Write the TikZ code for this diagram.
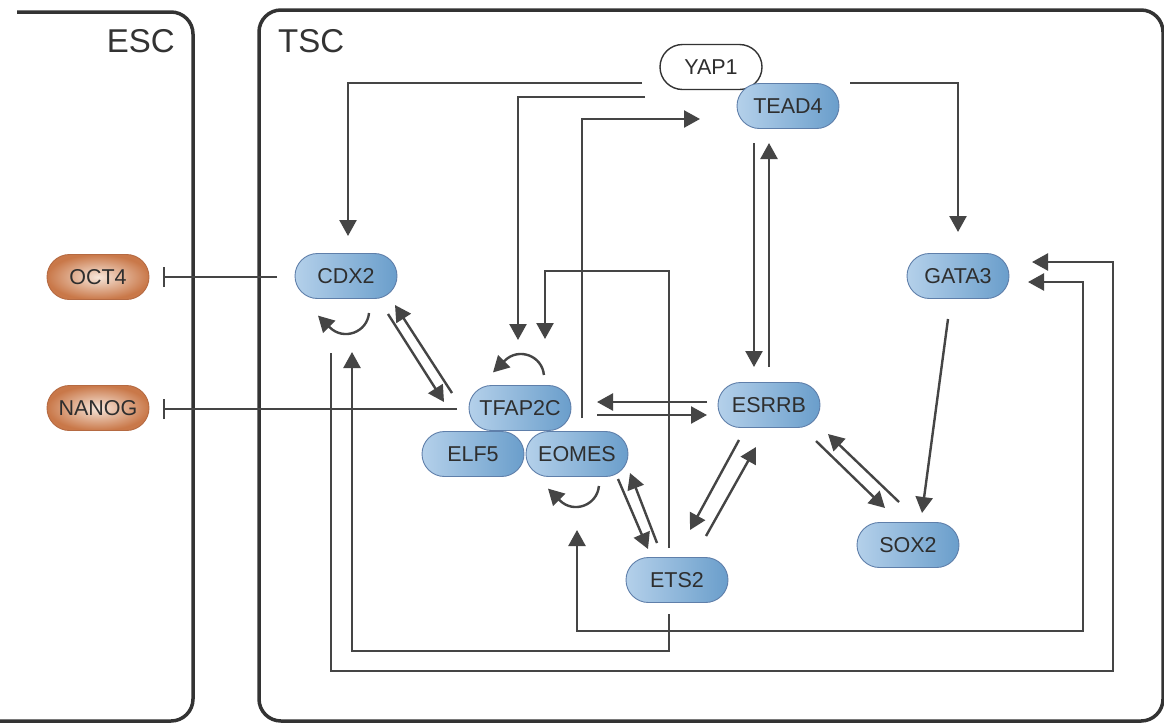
\documentclass[tikz,border=0pt]{standalone}
\usepackage{fontspec}
\setmainfont{Liberation Sans}
\usetikzlibrary{arrows.meta,shapes.misc,calc}

\definecolor{ink}{HTML}{454545}
\definecolor{frame}{HTML}{333333}
\definecolor{txt}{HTML}{2E2E2E}
\definecolor{tfL}{HTML}{B4D0EA}
\definecolor{tfR}{HTML}{6A9ECB}
\definecolor{tfB}{HTML}{5F7FAA}
\definecolor{escIn}{HTML}{F7E6DA}
\definecolor{escOut}{HTML}{C97849}
\definecolor{escB}{HTML}{B56A42}

\begin{document}
\begin{tikzpicture}[x=1pt,y=-1pt,
  gene/.style={rounded rectangle, minimum width=102pt, minimum height=45pt,
    inner sep=0pt, font=\fontsize{21.5}{25}\selectfont, text=txt},
  tsc/.style={gene, draw=tfB, line width=0.9pt, left color=tfL, right color=tfR},
  esc/.style={gene, draw=escB, line width=0.9pt, inner color=escIn, outer color=escOut},
  cofactor/.style={gene, draw=frame, line width=1.4pt, fill=white},
  link/.style={draw=ink, line width=2.4pt},
  act/.style={link, -{Triangle[length=16pt,width=17pt]}},
  dual/.style={link, {Triangle[length=16pt,width=17pt]}-{Triangle[length=16pt,width=17pt]}},
  inh/.style={link, -{Bar[width=20pt]}},
  cell/.style={draw=frame, line width=3.5pt, rounded corners=22pt},
  title/.style={font=\fontsize{33}{40}\selectfont, text=frame, inner sep=0pt}
]
\useasboundingbox (0,0) rectangle (1164,724);
\fill[white] (0,0) rectangle (1164,724);
\clip (0,0) rectangle (1164,724);

% cell compartments
\draw[cell] (17,12) -- (193,12) -- (193,721) -- (-40,721);
\draw[cell] (259,10) rectangle (1163,721);
\node[title, anchor=base east] (esclabel) at (175,52) {ESC};
\node[title, anchor=base west] (tsclabel) at (278,52) {TSC};

% factors
\node[esc] (oct)   at (98,277)  {OCT4};
\node[esc] (nanog) at (98,408)  {NANOG};
\node[cofactor] (yap) at (711,67) {YAP1};
\node[tsc] (tead)  at (788,106) {TEAD4};
\node[tsc] (cdx)   at (346,276) {CDX2};
\node[tsc] (gata)  at (958,276) {GATA3};
\node[tsc] (tfap)  at (520,408) {TFAP2C};
\node[tsc] (elf)   at (473,454) {ELF5};
\node[tsc] (eomes) at (577,454) {EOMES};
\node[tsc] (esrrb) at (769,405) {ESRRB};
\node[tsc] (sox)   at (908,545) {SOX2};
\node[tsc] (ets)   at (677,580) {ETS2};

% YAP1 / TEAD4 inputs
\draw[act] ($(yap)+(-69,16)$) -| ($(cdx)+(2,-40)$);
\draw[act] ($(yap)+(-66,30)$) -| ($(tfap)+(-2,-68)$);
\draw[act] ($(yap)+(139,16)$) -| ($(gata)+(0,-44)$);
\draw[act] ($(eomes)+(5,-36)$) |- ($(tead)+(-88,13)$);
\draw[act] ($(ets)+(-8,-32)$) -- ++(0,-277) -| ($(tfap)+(25,-69)$);
\draw[act] ($(tead)+(-34,37)$) -- ($(esrrb)+(-15,-38)$);
\draw[act] ($(esrrb)+(0,-38)$) -- ($(tead)+(-19,37)$);

% reciprocal pairs
\draw[act] ($(cdx)+(42,38)$) -- ($(tfap)+(-76,-6)$);
\draw[act] ($(tfap)+(-68,-15)$) -- ($(cdx)+(49,29)$);
\draw[act] ($(esrrb)+(-62,-3)$) -- ($(tfap)+(77,-6)$);
\draw[act] ($(tfap)+(77,7)$) -- ($(esrrb)+(-62,10)$);
\draw[act] ($(eomes)+(41,25)$) -- ($(ets)+(-29,-31)$);
\draw[act] ($(ets)+(-20,-37)$) -- ($(eomes)+(53,19)$);
\draw[act] ($(esrrb)+(-30,35)$) -- ($(ets)+(13,-50)$);
\draw[act] ($(ets)+(29,-44)$) -- ($(esrrb)+(-13,42)$);
\draw[act] ($(esrrb)+(47,36)$) -- ($(sox)+(-23,-37)$);
\draw[act] ($(sox)+(-9,-43)$) -- ($(esrrb)+(59,29)$);
\draw[act] ($(gata)+(-10,43)$) -- ($(sox)+(14,-32)$);

% long feedback routes
\draw[act] ($(cdx)+(-15,77)$) -- ++(0,318) -- ++(782,0) -- ++(0,-409) -- ($(gata)+(74,-14)$);
\draw[act] ($(ets)+(-8,34)$) -- ++(0,37) -| ($(cdx)+(6,76)$);
\draw[dual] ($(eomes)+(0,76)$) -- ++(0,101) -- ++(506,0) -- ++(0,-349) -- ($(gata)+(70,6)$);

% repression of pluripotency factors
\draw[inh] ($(cdx)+(-69,1)$) -- ($(oct)+(65,0)$);
\draw[inh] ($(tfap)+(-63,1)$) -- ($(nanog)+(65,1)$);

% autoregulation
\begin{scope}[shift={(cdx.center)}]
  \draw[act] (23,37) .. controls (21.3,56.4) and (-2.5,65.1) .. (-16.3,51.3) -- (-28,39.6);
\end{scope}
\begin{scope}[shift={(tfap.center)}]
  \draw[act] (23.9,-33) .. controls (22.2,-52.4) and (-1.5,-61.1) .. (-15.3,-47.3) -- (-27,-35.6);
\end{scope}
\begin{scope}[shift={(eomes.center)}]
  \draw[act] (21.9,32) .. controls (20.2,51.4) and (-3.5,60.1) .. (-17.3,46.3) -- (-29,34.6);
\end{scope}
\end{tikzpicture}
\end{document}
